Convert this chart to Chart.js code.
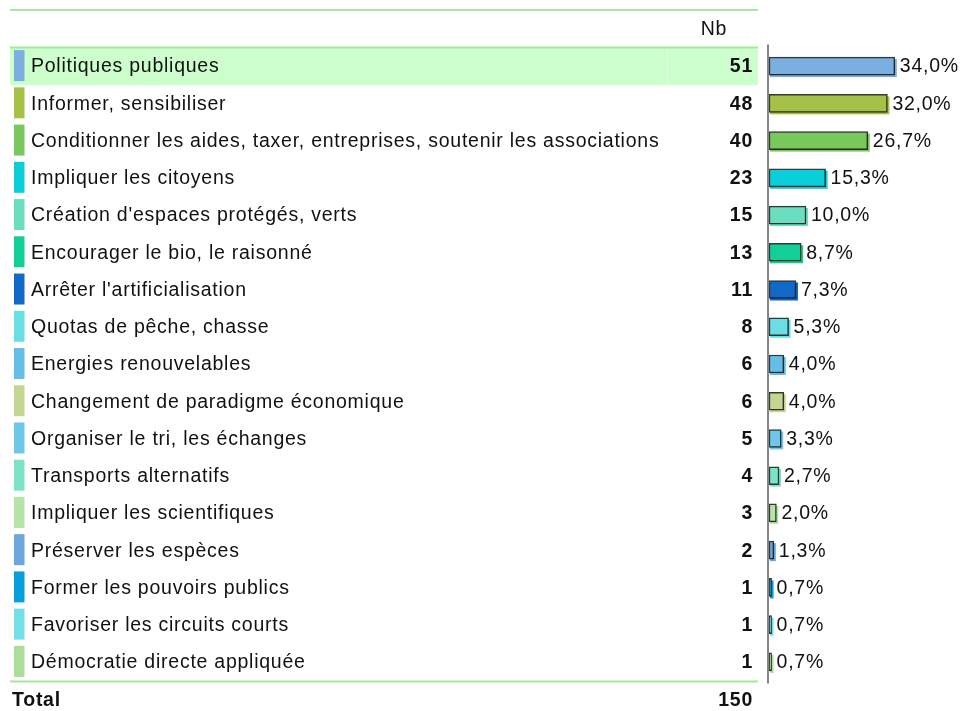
<!DOCTYPE html>
<html>
<head>
<meta charset="utf-8">
<script src="https://cdn.jsdelivr.net/npm/chart.js@4.4.1/dist/chart.umd.min.js"></script>
<style>
  body { margin: 0; background: #ffffff; }
  #chart { display: block; }
</style>
</head>
<body>
<canvas id="chart" width="961" height="711"></canvas>
<script>
// Data
const categories = [
    'Politiques publiques',
    'Informer, sensibiliser',
    'Conditionner les aides, taxer, entreprises, soutenir les associations',
    'Impliquer les citoyens',
    "Création d'espaces protégés, verts",
    'Encourager le bio, le raisonné',
    "Arrêter l'artificialisation",
    'Quotas de pêche, chasse',
    'Energies renouvelables',
    'Changement de paradigme économique',
    'Organiser le tri, les échanges',
    'Transports alternatifs',
    'Impliquer les scientifiques',
    'Préserver les espèces',
    'Former les pouvoirs publics',
    'Favoriser les circuits courts',
    'Démocratie directe appliquée'
];
const counts = [51, 48, 40, 23, 15, 13, 11, 8, 6, 6, 5, 4, 3, 2, 1, 1, 1];
const percents = [34.0, 32.0, 26.7, 15.3, 10.0, 8.7, 7.3, 5.3, 4.0, 4.0, 3.3, 2.7, 2.0, 1.3, 0.7, 0.7, 0.7];
const totalCount = 150;
const headerLabel = 'Nb';
const totalLabel = 'Total';

const colors = [
    '#7aafdf', '#a5c246', '#78c85c', '#0acfda', '#6bdec0', '#12cf9a',
    '#1168c7', '#69dfe4', '#64bfe6', '#c5d690', '#6ec6e8', '#7ce3c8',
    '#b6e3a8', '#6ca6da', '#049fdc', '#72e0e6', '#abdd9b'
];

const FONT = "'Liberation Sans', Arial, sans-serif";
const SIZE = '19.5px ';
const SPACING = '0.75px';
const lineGreen = '#a9e6a1';

// Draws the table part (lines, highlight, swatches, labels, counts) next to the bars
const tablePlugin = {
    id: 'tablePlugin',
    beforeDatasetsDraw(chart) {
        const ctx = chart.ctx;
        const y = chart.scales.y;
        const area = chart.chartArea;
        const left = 10, right = 758;
        const band = (y.bottom - y.top) / categories.length;

        ctx.save();

        // highlighted first row
        const r0 = y.getPixelForValue(0);
        ctx.fillStyle = '#ccffcc';
        ctx.fillRect(left, r0 - band / 2 + 0.5, right - left, band);
        ctx.fillStyle = '#e2ffe2';
        ctx.fillRect(667, r0 - band / 2 + 1, 1, band - 1);

        // horizontal green lines
        ctx.fillStyle = lineGreen;
        ctx.fillRect(left, 9, right - left, 2);
        ctx.fillRect(left, y.top - 1, right - left, 2);
        ctx.fillRect(left, y.bottom, right - left, 2);

        // header
        ctx.letterSpacing = SPACING;
        ctx.fillStyle = '#111';
        ctx.textBaseline = 'middle';
        ctx.font = SIZE + FONT;
        ctx.textAlign = 'center';
        ctx.fillText(headerLabel, 714, 30);

        categories.forEach((cat, i) => {
            const cy = y.getPixelForValue(i);
            // colour swatch
            ctx.fillStyle = colors[i];
            ctx.fillRect(14, cy - 16, 10.5, 31);
            // label
            ctx.fillStyle = '#111';
            ctx.font = SIZE + FONT;
            ctx.textAlign = 'left';
            ctx.fillText(cat, 31, cy + 1);
            // count
            ctx.font = 'bold ' + SIZE + FONT;
            ctx.textAlign = 'right';
            ctx.fillText(counts[i], 753, cy + 1);
        });

        // total row
        const ty = y.bottom + 20;
        ctx.font = 'bold ' + SIZE + FONT;
        ctx.textAlign = 'left';
        ctx.fillText(totalLabel, 12, ty);
        ctx.textAlign = 'right';
        ctx.fillText(totalCount, 753, ty);

        // vertical axis line of the bar part
        ctx.fillStyle = '#858585';
        ctx.fillRect(area.left - 2, y.top - 3, 2, y.bottom - y.top + 6);

        // coloured offset shadow behind each bar
        const meta = chart.getDatasetMeta(0);
        meta.data.forEach((bar, i) => {
            const p = bar.getProps(['x', 'y', 'base', 'height'], true);
            ctx.fillStyle = colors[i];
            ctx.fillRect(p.base + 1, p.y - p.height / 2 + 2, p.x - p.base + 1, p.height);
        });

        ctx.restore();
    },
    afterDatasetsDraw(chart) {
        const ctx = chart.ctx;
        const meta = chart.getDatasetMeta(0);
        ctx.save();
        ctx.letterSpacing = SPACING;
        ctx.fillStyle = '#111';
        ctx.font = SIZE + FONT;
        ctx.textAlign = 'left';
        ctx.textBaseline = 'middle';
        meta.data.forEach((bar, i) => {
            const p = bar.getProps(['x', 'y'], true);
            ctx.fillText(percents[i].toFixed(1).replace('.', ',') + '%', p.x + 5, p.y + 1);
        });
        ctx.restore();
    }
};

const ctx = document.getElementById('chart').getContext('2d');
new Chart(ctx, {
    type: 'bar',
    data: {
        labels: categories,
        datasets: [{
            label: 'Pourcentage',
            data: percents,
            backgroundColor: colors,
            borderColor: 'rgba(20, 20, 20, 0.85)',
            borderWidth: 1.5,
            borderSkipped: false,
            barThickness: 18
        }]
    },
    options: {
        indexAxis: 'y',
        responsive: false,
        animation: false,
        layout: {
            padding: { left: 769, right: 7, top: 47.5, bottom: 30.5 }
        },
        scales: {
            x: { display: false, min: 0, max: 50 },
            y: { display: false, offset: true }
        },
        plugins: {
            legend: { display: false },
            tooltip: { enabled: false }
        }
    },
    plugins: [tablePlugin]
});
</script>
</body>
</html>
